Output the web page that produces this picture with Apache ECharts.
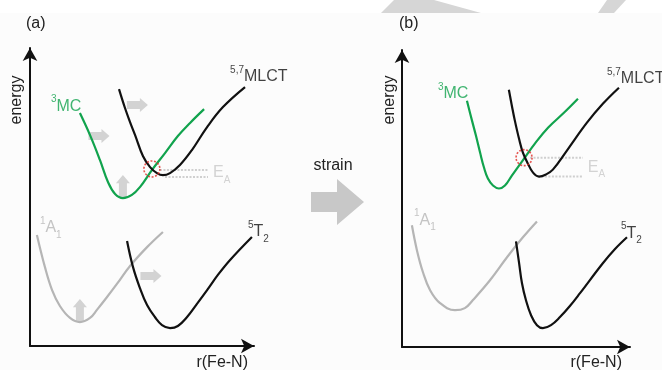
<!DOCTYPE html>
<html>
<head>
<meta charset="utf-8">
<script src="https://cdn.jsdelivr.net/npm/echarts@6/dist/echarts.min.js"></script>
<style>
  html, body { margin: 0; padding: 0; background: #fcfcfc; }
  #chart { width: 662px; height: 370px; }
</style>
</head>
<body>
<div id="chart"></div>
<script>
// potential energy curves, arbitrary units: [r, energy]
// panel (a) - unstrained
var mcA = [[2.17,10.13],[2.61,9.17],[3.04,8.09],[3.39,7.13],[3.70,6.61],[4.04,6.43],[4.43,6.57],[4.78,6.91],[5.30,7.65],[5.87,8.39],[6.43,9.13],[6.96,9.70],[7.57,10.30]];
var mlctA = [[3.87,11.17],[4.13,10.35],[4.35,9.74],[4.57,9.17],[4.91,8.26],[5.22,7.78],[5.52,7.52],[5.78,7.43],[6.09,7.52],[6.52,7.87],[7.04,8.52],[7.70,9.52],[8.39,10.39],[9.35,11.26]];
var a1A = [[0.30,4.83],[0.65,3.43],[0.96,2.43],[1.30,1.74],[1.74,1.22],[2.17,1.04],[2.61,1.22],[2.91,1.57],[3.35,2.13],[3.78,2.70],[4.35,3.48],[5.09,4.30],[5.78,4.96]];
var t2A = [[4.22,4.57],[4.48,3.43],[4.78,2.52],[5.09,1.78],[5.43,1.26],[5.74,0.91],[6.09,0.78],[6.43,0.87],[6.83,1.26],[7.26,1.83],[7.70,2.43],[8.17,3.09],[8.70,3.74],[9.65,4.74]];
// panel (b) - strained
var mcB = [[2.82,10.70],[3.04,9.84],[3.21,9.19],[3.39,8.45],[3.56,7.80],[3.73,7.32],[3.95,7.02],[4.21,6.89],[4.47,7.02],[4.77,7.45],[5.30,8.19],[5.77,8.84],[6.34,9.53],[7.03,10.18],[7.64,10.79]];
var mlctB = [[4.64,11.18],[4.77,10.49],[4.90,9.84],[5.08,9.06],[5.25,8.45],[5.47,7.97],[5.69,7.58],[5.95,7.41],[6.25,7.50],[6.55,7.71],[7.16,8.54],[8.03,9.75],[8.72,10.57],[9.42,11.27]];
var a1B = [[0.43,5.29],[0.65,4.20],[0.91,3.25],[1.22,2.47],[1.65,1.91],[2.30,1.60],[2.73,1.69],[3.08,2.04],[3.82,2.90],[4.56,3.90],[5.25,4.77],[5.86,5.46]];
var t2B = [[4.95,4.59],[5.08,3.68],[5.21,2.77],[5.38,2.04],[5.60,1.39],[5.86,0.95],[6.12,0.82],[6.47,0.95],[6.86,1.30],[7.29,1.78],[7.73,2.34],[8.72,3.64],[9.24,4.25],[9.77,4.77]];

// shift arrows (panel a only)
var shiftRightA = [[4.67,10.48],[3.00,9.13],[5.26,3.04]];
var shiftUpA = [[4.04,6.96],[2.17,1.57]];

// crossing points and activation barrier levels
var crossA = [[5.30,7.70]];
var crossB = [[5.30,8.23]];
var eaA = [[5.65,7.74,7.65],[5.87,7.74,7.35]];   // [from, to, level]
var eaB = [[5.56,7.86,8.23],[5.90,7.86,7.41]];
var eaLabelA = [7.96,7.52];
var eaLabelB = [8.07,7.80];

// state labels: [r, energy, state]
var labelsA = [[0.91,10.43,'MC'],[8.70,11.70,'MLCT'],[0.43,5.13,'A1'],[9.48,4.96,'T2']];
var labelsB = [[1.56,11.00,'MC'],[8.90,11.66,'MLCT'],[0.52,5.50,'A1'],[9.51,4.94,'T2']];

var xMax = [9.74, 9.9];
var yMax = [12.96, 12.91];

var GREEN = '#11a34d', GREY = '#b5b5b5', BLACK = '#111', ARROW = '#c8c8c8', RED = '#e02b25';
var FONT = '"Liberation Sans", Arial, sans-serif';

var stateFmt = {
  MC:   { text: '{s|3}{m|MC}', color: GREEN },
  MLCT: { text: '{s|5,7}{m|MLCT}', color: BLACK },
  A1:   { text: '{s|1}{m|A}{b|1}', color: GREY },
  T2:   { text: '{s|5}{m|T}{b|2}', color: BLACK }
};

var rich = {
  s: { fontSize: 10, lineHeight: 12, verticalAlign: 'top', fontFamily: FONT },
  m: { fontSize: 16, lineHeight: 24, fontFamily: FONT },
  b: { fontSize: 10, lineHeight: 12, verticalAlign: 'bottom', fontFamily: FONT }
};

var arrowPath = 'path://M0,3H13V0L21,7L13,14V11H0Z';

function curve(data, color, idx) {
  return {
    type: 'line', xAxisIndex: idx, yAxisIndex: idx, data: data,
    smooth: 0.4, showSymbol: false, silent: true,
    lineStyle: { color: color, width: 2.2 }
  };
}

function panelSeries(idx, mc, mlct, a1, t2, cross, ea, eaLabel, labels) {
  var s = [
    curve(a1, GREY, idx), curve(t2, BLACK, idx),
    curve(mc, GREEN, idx), curve(mlct, BLACK, idx)
  ];
  ea.forEach(function (e) {
    s.push({
      type: 'line', xAxisIndex: idx, yAxisIndex: idx, showSymbol: false, silent: true,
      data: [[e[0], e[2]], [e[1], e[2]]],
      lineStyle: { color: '#cfcfcf', width: 2, type: [2, 1.5] }, z: 1
    });
  });
  s.push({
    type: 'scatter', xAxisIndex: idx, yAxisIndex: idx, data: cross, silent: true,
    symbol: 'circle', symbolSize: 16,
    itemStyle: { color: 'rgba(0,0,0,0)', borderColor: RED, borderWidth: 1.6, borderType: [2, 1.6] }, z: 5
  });
  s.push({
    type: 'scatter', xAxisIndex: idx, yAxisIndex: idx, symbolSize: 0, silent: true,
    data: labels.map(function (l) {
      var f = stateFmt[l[2]];
      return { value: [l[0], l[1]], label: { formatter: f.text, color: f.color } };
    }).concat([{ value: eaLabel, label: { formatter: '{m|E}{b|A}', color: '#c8c8c8' } }]),
    label: { show: true, position: 'right', distance: 0, rich: rich }
  });
  return s;
}

var series = []
  .concat(panelSeries(0, mcA, mlctA, a1A, t2A, crossA, eaA, eaLabelA, labelsA))
  .concat(panelSeries(1, mcB, mlctB, a1B, t2B, crossB, eaB, eaLabelB, labelsB));

series.push({
  type: 'scatter', xAxisIndex: 0, yAxisIndex: 0, data: shiftRightA, silent: true,
  symbol: arrowPath, symbolSize: [21, 14], itemStyle: { color: ARROW }, z: 0
});
series.push({
  type: 'scatter', xAxisIndex: 0, yAxisIndex: 0, data: shiftUpA, silent: true,
  symbol: arrowPath, symbolSize: [22, 14], symbolRotate: 90, itemStyle: { color: ARROW }, z: 0
});

function axis(i, max) {
  return {
    type: 'value', gridIndex: i, min: 0, max: max,
    axisLine: { show: true, onZero: false, symbol: ['none', 'arrow'], symbolSize: [11, 13],
                lineStyle: { color: BLACK, width: 2 } },
    axisTick: { show: false }, axisLabel: { show: false }, splitLine: { show: false }
  };
}

var textStyle = { fontFamily: FONT, fontSize: 16, fill: '#222' };

var option = {
  backgroundColor: '#fcfcfc',
  animation: false,
  grid: [
    { left: 30, top: 48, width: 224, height: 298 },
    { left: 402, top: 50, width: 228, height: 297 }
  ],
  xAxis: [axis(0, xMax[0]), axis(1, xMax[1])],
  yAxis: [axis(0, yMax[0]), axis(1, yMax[1])],
  series: series,
  graphic: [
    { type: 'rect', shape: { x: 0, y: 0, width: 662, height: 13 }, style: { fill: '#fff' }, z: -10 },
    { type: 'polygon', shape: { points: [[394,0],[434,0],[481,13],[381,13]] }, style: { fill: '#d6d6d6' }, z: -9 },
    { type: 'polygon', shape: { points: [[607,0],[626,0],[614,13],[598,13]] }, style: { fill: '#d6d6d6' }, z: -9 },
    { type: 'text', x: 26, y: 24, style: Object.assign({ text: '(a)', verticalAlign: 'middle' }, textStyle) },
    { type: 'text', x: 399, y: 24, style: Object.assign({ text: '(b)', verticalAlign: 'middle' }, textStyle) },
    { type: 'text', x: 17, y: 100, rotation: Math.PI / 2, style: Object.assign({ text: 'energy', align: 'center', verticalAlign: 'middle' }, textStyle) },
    { type: 'text', x: 390, y: 100, rotation: Math.PI / 2, style: Object.assign({ text: 'energy', align: 'center', verticalAlign: 'middle' }, textStyle) },
    { type: 'text', x: 248, y: 363, style: Object.assign({ text: 'r(Fe-N)', align: 'right', verticalAlign: 'middle' }, textStyle) },
    { type: 'text', x: 622, y: 363, style: Object.assign({ text: 'r(Fe-N)', align: 'right', verticalAlign: 'middle' }, textStyle) },
    { type: 'text', x: 333, y: 166, style: Object.assign({ text: 'strain', align: 'center', verticalAlign: 'middle' }, textStyle) },
    { type: 'polygon', shape: { points: [[311,192],[337,192],[337,179],[364,202],[337,225],[337,212],[311,212]] }, style: { fill: '#c8c8c8' } }
  ]
};

var chart = echarts.init(document.getElementById('chart'), null, { renderer: 'canvas' });
chart.setOption(option);
</script>
</body>
</html>
